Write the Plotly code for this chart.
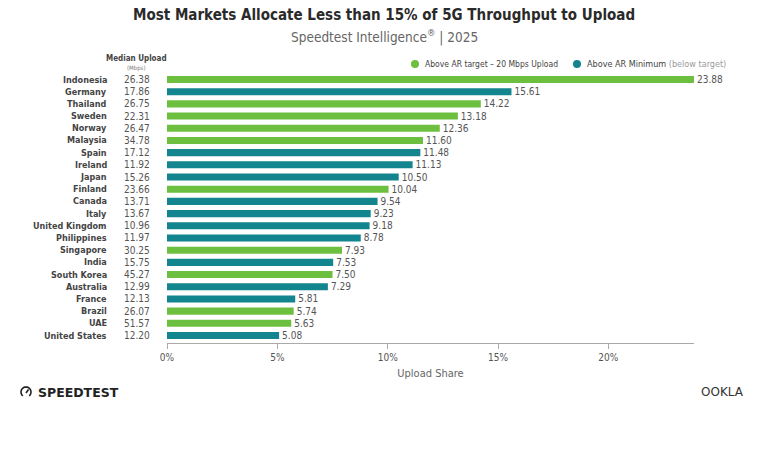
import math
import plotly.graph_objects as go

countries = ["Indonesia", "Germany", "Thailand", "Sweden", "Norway", "Malaysia", "Spain",
             "Ireland", "Japan", "Finland", "Canada", "Italy", "United Kingdom", "Philippines",
             "Singapore", "India", "South Korea", "Australia", "France", "Brazil", "UAE",
             "United States"]
median_upload = [26.38, 17.86, 26.75, 22.31, 26.47, 34.78, 17.12, 11.92, 15.26, 23.66, 13.71,
                 13.67, 10.96, 11.97, 30.25, 15.75, 45.27, 12.99, 12.13, 26.07, 51.57, 12.20]
upload_share = [23.88, 15.61, 14.22, 13.18, 12.36, 11.60, 11.48, 11.13, 10.50, 10.04, 9.54,
                9.23, 9.18, 8.78, 7.93, 7.53, 7.50, 7.29, 5.81, 5.74, 5.63, 5.08]
ar_target = 20  # Mbps
tick_vals = [0, 5, 10, 15, 20]
tick_text = ["0%", "5%", "10%", "15%", "20%"]
legend_labels = ["Above AR target – 20 Mbps Upload",
                 "Above AR Minimum <span style='color:#9a9a9a'>(below target)</span>"]

GREEN = "#6cbf3f"
TEAL = "#13858f"
FONT = "'DejaVu Sans Condensed', 'Liberation Sans Narrow', Roboto, sans-serif"

W, H = 768, 456
L, R, T, B = 167, 74, 72, 113
PW, PH = W - L - R, H - T - B


def px(x):
    return (x - L) / PW


def py(y):
    return (H - B - y) / PH


fig = go.Figure()

groups = [(GREEN, lambda m: m >= ar_target), (TEAL, lambda m: m < ar_target)]
for color, cond in groups:
    idx = [i for i, m in enumerate(median_upload) if cond(m)]
    fig.add_trace(go.Bar(
        y=[countries[i] for i in idx],
        x=[upload_share[i] for i in idx],
        orientation="h",
        marker=dict(color=color, line=dict(width=0)),
        text=[f"{upload_share[i]:.2f}" for i in idx],
        textposition="outside",
        constraintext="none",
        cliponaxis=False,
        textfont=dict(family=FONT, size=10, color="#555555"),
        showlegend=False,
        hoverinfo="skip",
    ))

annotations = []
for c, m in zip(countries, median_upload):
    annotations.append(dict(x=px(109), y=c, xref="paper", yref="y", text=f"<b>{c}</b>", showarrow=False,
                            xanchor="right", yanchor="middle",
                            font=dict(family=FONT, size=9, color="#444444")))
    annotations.append(dict(x=px(122), y=c, xref="paper", yref="y", text=f"{m:.2f}", showarrow=False,
                            xanchor="left", yanchor="middle",
                            font=dict(family=FONT, size=10, color="#555555")))

# legend (dots + labels)
legend_pos = [(415, GREEN, 8.5), (577, TEAL, 9)]
shapes = []
for (lx, col, fs), lab in zip(legend_pos, legend_labels):
    shapes.append(dict(type="circle", xref="paper", yref="paper",
                       x0=px(lx - 4), x1=px(lx + 4), y0=py(64 - 4), y1=py(64 + 4),
                       fillcolor=col, line=dict(width=0)))
    annotations.append(dict(x=px(lx + 8), y=py(64), xref="paper", yref="paper", text=lab,
                            showarrow=False, xanchor="left", yanchor="middle",
                            font=dict(family=FONT, size=fs, color="#444444")))

annotations += [
    dict(x=px(136), y=py(58), xref="paper", yref="paper", text="<b>Median Upload</b>",
         showarrow=False, xanchor="center", yanchor="middle",
         font=dict(family=FONT, size=8, color="#444444")),
    dict(x=px(136), y=py(68), xref="paper", yref="paper", text="(Mbps)",
         showarrow=False, xanchor="center", yanchor="middle",
         font=dict(family=FONT, size=6, color="#777777")),
    dict(x=px(384), y=py(15), xref="paper", yref="paper",
         text="<b>Most Markets Allocate Less than 15% of 5G Throughput to Upload</b>",
         showarrow=False, xanchor="center", yanchor="middle",
         font=dict(family=FONT, size=15, color="#2a2a2a")),
    dict(x=px(384), y=py(37), xref="paper", yref="paper",
         text="Speedtest Intelligence<sup>®</sup> | 2025",
         showarrow=False, xanchor="center", yanchor="middle",
         font=dict(family=FONT, size=13.5, color="#666666")),
    dict(x=px(36), y=py(392), xref="paper", yref="paper", text="<b>SPEEDTEST</b>",
         showarrow=False, xanchor="left", yanchor="middle",
         font=dict(family="DejaVu Sans", size=12.5, color="#222222")),
    dict(x=px(746), y=py(392), xref="paper", yref="paper", text="OOKLA",
         showarrow=False, xanchor="right", yanchor="middle",
         font=dict(family="DejaVu Sans", size=12, color="#333333")),
]

# speedtest gauge icon (open circle with needle), drawn in pixel space
cx, cy, r = 26, 392, 5
pts = []
for k in range(0, 21):
    a = math.radians(-50 + k * (280 / 20))
    pts.append((cx + r * math.cos(a), cy - r * math.sin(a)))
path = "M " + " L ".join(f"{px(x):.5f},{py(y):.5f}" for x, y in pts)
shapes += [
    dict(type="path", xref="paper", yref="paper", path=path,
         line=dict(color="#222222", width=1.6)),
    dict(type="line", xref="paper", yref="paper", x0=px(26), y0=py(393), x1=px(28.5), y1=py(389.5),
         line=dict(color="#222222", width=1.6)),
]

fig.update_layout(
    width=W, height=H,
    margin=dict(l=L, r=R, t=T, b=B),
    paper_bgcolor="white", plot_bgcolor="white",
    barmode="overlay", bargap=0.42,
    font=dict(family=FONT, color="#555555"),
    showlegend=False,
    xaxis=dict(range=[0, 23.88], tickvals=tick_vals, ticktext=tick_text,
               showgrid=False, zeroline=False, showline=True, linecolor="#aaaaaa",
               ticks="outside", ticklen=5, tickcolor="#aaaaaa",
               tickfont=dict(family=FONT, size=10, color="#555555"),
               title=dict(text="Upload Share", font=dict(family=FONT, size=11, color="#666666"),
                          standoff=7)),
    yaxis=dict(categoryorder="array", categoryarray=countries, autorange="reversed",
               showticklabels=False, showgrid=False, zeroline=False, showline=False, ticks=""),
    annotations=annotations,
    shapes=shapes,
)

fig.write_html("out.html")
